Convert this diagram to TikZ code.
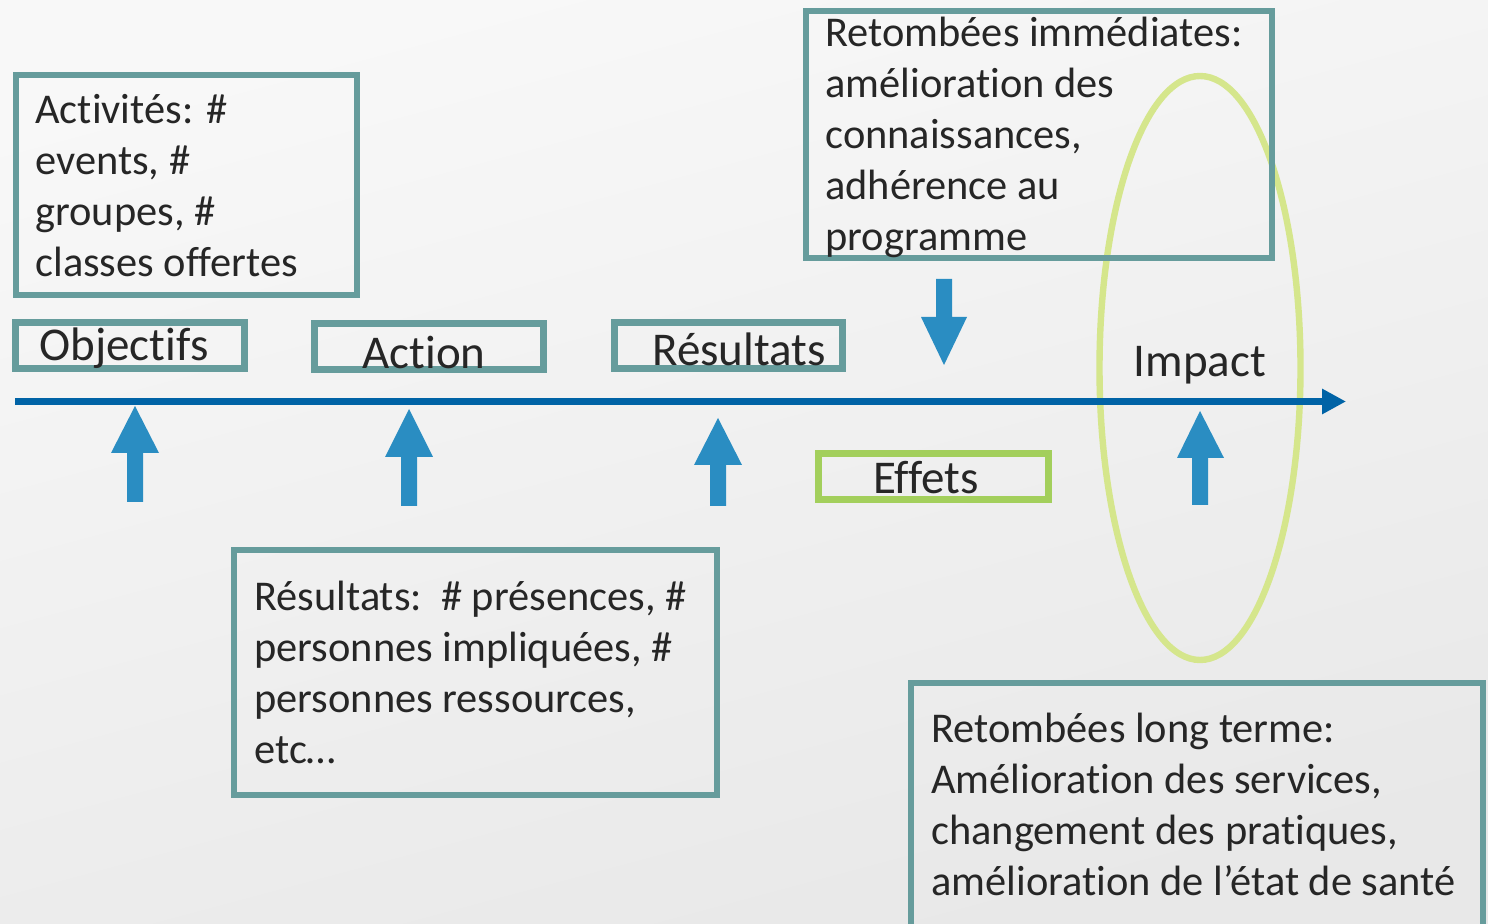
\documentclass[tikz,border=0pt]{standalone}
\usepackage{fontspec}
\setmainfont[RawFeature={-liga}]{Carlito}
\usetikzlibrary{fit,arrows.meta,shapes.geometric}
\definecolor{tealbox}{HTML}{669C9C}
\definecolor{greenbox}{HTML}{A3CF5C}
\definecolor{ellgreen}{HTML}{D5E68C}
\definecolor{arrblue}{HTML}{2A8DC2}
\definecolor{lineblue}{HTML}{0063A6}
\definecolor{txt}{HTML}{262626}
\definecolor{bgtop}{HTML}{F8F8F8}
\definecolor{bgbot}{HTML}{E8E8E8}
\tikzset{
  tbox/.style={draw=tealbox, line width=3.3pt, inner sep=0pt},
  gbox/.style={draw=greenbox, line width=3.4pt, inner sep=0pt},
  % anchor: baseline of the LAST line
  bodytext/.style={font=\fontsize{21.2}{25.5}\selectfont, text=txt, align=left, inner sep=0pt, anchor=base west},
  titletext/.style={font=\fontsize{23.5}{28}\selectfont, text=txt, inner sep=0pt, anchor=base},
  blockarrow/.style={fill=arrblue, draw=none},
}
\begin{document}
\begin{tikzpicture}[x=0.5pt,y=-0.5pt]
\useasboundingbox (0,0) rectangle (1488,924);
\shade[shading=axis, top color=bgtop, bottom color=bgbot, shading angle=15] (0,0) rectangle (1488,924);

% ellipse (impact zone)
\node[draw=ellgreen, line width=3.2pt, ellipse, inner sep=0pt, minimum width=100.5pt, minimum height=292pt] (ell) at (1200,368) {};

% timeline
\coordinate (tl0) at (15,401.5);
\coordinate (tl1) at (1346,401.5);
\draw[lineblue, line width=3.8pt, -{Triangle[length=12pt,width=12pt]}] (tl0) -- (tl1);

% top boxes
\node[tbox, fit={(16,75) (357,295)}] (actbox) {};
\node[bodytext] (acttext) at (35,277) {Activités: \#\\events, \#\\groupes, \#\\classes offertes};

\node[tbox, fit={(806,11) (1272,258)}] (rimbox) {};
\node[bodytext] (rimtext) at (825,251) {Retombées immédiates:\\amélioration des\\connaissances,\\adhérence au\\programme};

% category boxes
\node[tbox, fit={(15.5,322.5) (244.5,368.5)}] (objbox) {};
\node[titletext] (objtext) at (124,361) {Objectifs};
\node[tbox, fit={(314.5,323.5) (543.5,369.5)}] (actionbox) {};
\node[titletext] (actiontext) at (424,369) {Action};
\node[tbox, fit={(614.5,322.5) (842.5,368.5)}] (resbox) {};
\node[titletext] (restext) at (739,366) {Résultats};
\node[gbox, fit={(818.5,453.5) (1048.5,499.5)}] (effbox) {};
\node[titletext] (efftext) at (926,494) {Effets};
\node[titletext] (imptext) at (1200,377) {Impact};

% block arrows
\fill[blockarrow] (127,502) -- (127,453) -- (111,453) -- (135,406) -- (159,453) -- (143,453) -- (143,502) -- cycle;
\fill[blockarrow] (401,506) -- (401,457) -- (385,457) -- (409,409) -- (433,457) -- (417,457) -- (417,506) -- cycle;
\fill[blockarrow] (710,506) -- (710,465) -- (694,465) -- (718,418) -- (742,465) -- (726,465) -- (726,506) -- cycle;
\fill[blockarrow] (1192,505) -- (1192,458) -- (1177,458) -- (1200,411) -- (1224,458) -- (1208,458) -- (1208,505) -- cycle;
\fill[blockarrow] (936,279) -- (936,317) -- (921,317) -- (944,365) -- (967,317) -- (952,317) -- (952,279) -- cycle;

% bottom boxes
\node[tbox, fit={(234,550) (717,795)}] (resbbox) {};
\node[bodytext] (resbtext) at (254,763) {Résultats:\ \ \# présences, \#\\personnes impliquées, \#\\personnes ressources,\\etc…};

\node[tbox, fit={(911,683) (1483,940)}] (ltbox) {};
\node[bodytext] (lttext) at (931,895) {Retombées long terme:\\Amélioration des services,\\changement des pratiques,\\amélioration de l’état de santé};
\end{tikzpicture}
\end{document}
